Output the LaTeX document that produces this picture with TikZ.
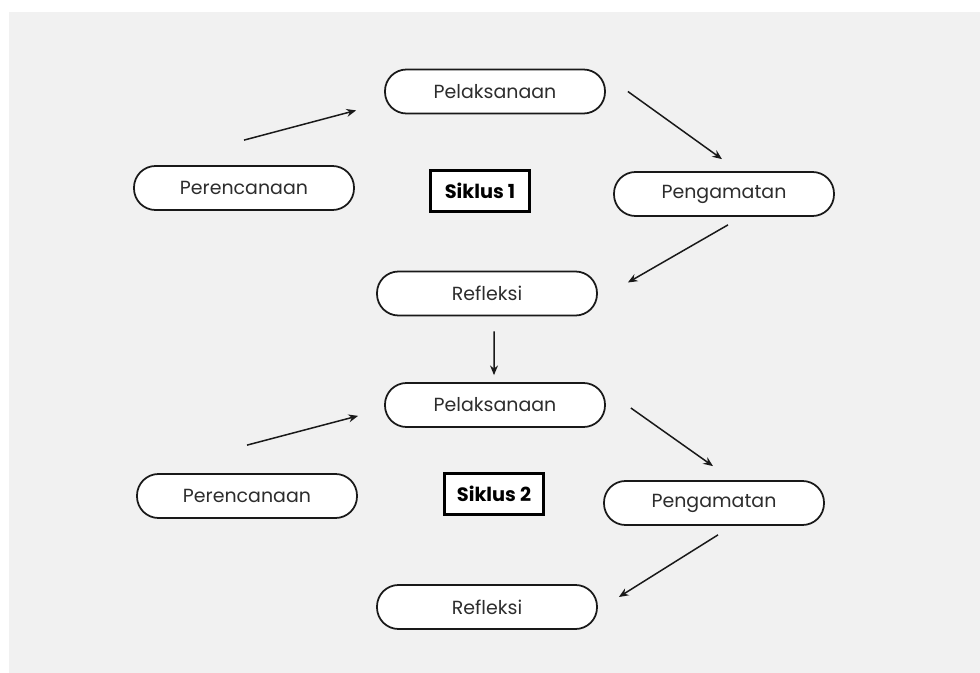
\documentclass[tikz,border=0pt]{standalone}
\usepackage{fontspec}
\setmainfont{Poppins}
\usetikzlibrary{arrows.meta}
\definecolor{bggray}{RGB}{241,241,241}
\definecolor{txtgray}{RGB}{45,45,45}

\begin{document}
\begin{tikzpicture}[
  % Node Styles
  pill/.style={rectangle, rounded corners=0.43cm, draw=black!90, line width=1pt, fill=white, text=txtgray, minimum height=0.88cm, minimum width=4.4cm, align=center, inner sep=0pt},
  cyclebox/.style={rectangle, draw=black, line width=1.5pt, fill=white, text=black, minimum height=0.82cm, minimum width=1.98cm, align=center, font=\fontsize{11}{13}\selectfont\bfseries},
  % Arrow Styles
  flowarrow/.style={-{Stealth[length=5.5pt,width=4.5pt]}, line width=0.85pt, black!90},
]
\tikzset{font=\fontsize{10.8}{13}\selectfont}

% background
\fill[white] (0,0) rectangle (19.6,-13.46);
\fill[bggray] (0.18,-0.24) rectangle (19.6,-13.46);
\useasboundingbox (0,0) rectangle (19.6,-13.46);

% Siklus 1
\node[pill] (pelaksanaan1) at (9.90,-1.83) {Pelaksanaan};
\node[pill] (perencanaan1) at (4.88,-3.76) {Perencanaan};
\node[cyclebox] (siklus1) at (9.60,-3.82) {Siklus 1};
\node[pill] (pengamatan1) at (14.48,-3.88) {Pengamatan};
\node[pill] (refleksi1) at (9.74,-5.87) {Refleksi};

% Siklus 2
\node[pill] (pelaksanaan2) at (9.90,-8.10) {Pelaksanaan};
\node[pill] (perencanaan2) at (4.94,-9.92) {Perencanaan};
\node[cyclebox] (siklus2) at (9.88,-9.88) {Siklus 2};
\node[pill] (pengamatan2) at (14.28,-10.06) {Pengamatan};
\node[pill] (refleksi2) at (9.74,-12.14) {Refleksi};

\draw[flowarrow] ([yshift=0.50cm]perencanaan1.north) -- ([xshift=-0.56cm,yshift=0.08cm]pelaksanaan1.south west);
\draw[flowarrow] ([xshift=0.44cm]pelaksanaan1.east) -- ([xshift=-0.04cm,yshift=0.24cm]pengamatan1.north);
\draw[flowarrow] ([xshift=0.08cm,yshift=-0.16cm]pengamatan1.south) -- ([xshift=0.60cm,yshift=0.22cm]refleksi1.east);
\draw[flowarrow] ([xshift=0.14cm,yshift=-0.30cm]refleksi1.south) -- ([xshift=-0.02cm,yshift=0.14cm]pelaksanaan2.north);
\draw[flowarrow] ([yshift=0.56cm]perencanaan2.north) -- ([xshift=-0.52cm,yshift=0.24cm]pelaksanaan2.south west);
\draw[flowarrow] ([xshift=0.50cm,yshift=-0.06cm]pelaksanaan2.east) -- ([xshift=-0.02cm,yshift=0.28cm]pengamatan2.north);
\draw[flowarrow] ([xshift=0.08cm,yshift=-0.18cm]pengamatan2.south) -- ([xshift=0.42cm,yshift=0.20cm]refleksi2.east);

\end{tikzpicture}
\end{document}
